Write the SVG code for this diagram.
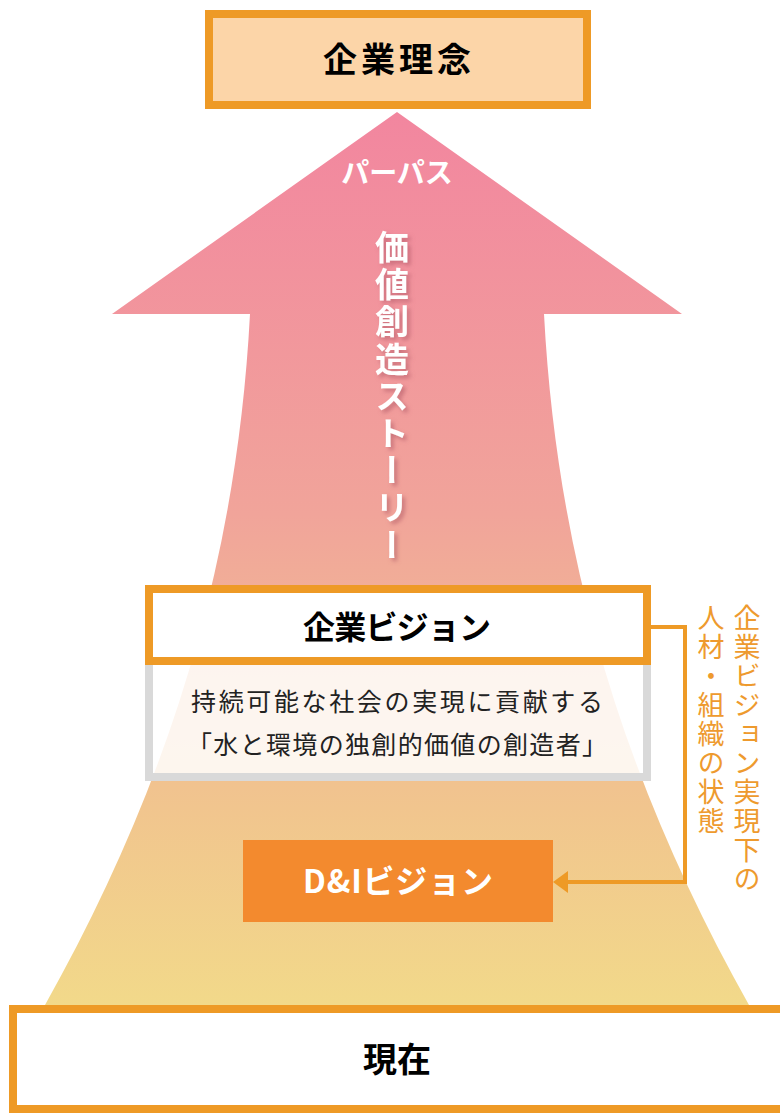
<svg xmlns="http://www.w3.org/2000/svg" width="780" height="1115" viewBox="0 0 780 1115">
<defs>
<linearGradient id="g" x1="0" y1="112" x2="0" y2="1005" gradientUnits="userSpaceOnUse">
<stop offset="0" stop-color="#F2869F"/>
<stop offset="0.45" stop-color="#F1A49A"/>
<stop offset="0.6" stop-color="#F1B595"/>
<stop offset="0.78" stop-color="#F1C58E"/>
<stop offset="1" stop-color="#F2D98A"/>
</linearGradient>
<filter id="sh" x="-50%" y="-10%" width="200%" height="120%">
<feDropShadow dx="3" dy="3" stdDeviation="2" flood-color="#A8505F" flood-opacity="0.55"/>
</filter>
<marker id="ah" markerWidth="16" markerHeight="22" refX="0" refY="11" orient="auto" markerUnits="userSpaceOnUse">
<path d="M0,0 L15,11 L0,22 Z" fill="#EE9A26"/>
</marker>
<style>
.box{stroke:#EE9A26;stroke-width:8}
.ttl{font-family:"Noto Sans CJK JP","Noto Sans",sans-serif;font-weight:700;text-anchor:middle}
.body{font-family:"Noto Sans CJK JP","Noto Sans",sans-serif;font-size:25px;fill:#222;text-anchor:middle}
.vt{font-family:"Noto Sans CJK JP",sans-serif;writing-mode:vertical-rl;fill:#EE9A2E;font-size:27px;letter-spacing:2px}
</style>
</defs>
<g id="arrow">
<path d="M397,112 L682,314 L544,314 C558,580 634,800 749,1005 L45,1005 C160,800 236,580 250,314 L112,314 Z" fill="url(#g)"/>
<text class="ttl" x="397" y="183" font-size="28" fill="#fff">パーパス</text>
<text x="392" y="230" font-family="'Noto Sans CJK JP',sans-serif" font-weight="700" font-size="34" fill="#fff" letter-spacing="3.2" style="writing-mode:vertical-rl" filter="url(#sh)">価値創造ストーリー</text>
</g>
<g id="rinen">
<rect class="box" x="209" y="14" width="378" height="91" fill="#FCD5A8"/>
<text class="ttl" x="397" y="72" font-size="34" textLength="148" fill="#000">企業理念</text>
</g>
<g id="vision">
<rect x="149" y="661" width="498" height="116" fill="#fff" fill-opacity="0.85" stroke="#D9D9D9" stroke-width="8"/>
<rect class="box" x="149" y="589" width="498" height="72" fill="#fff"/>
<text class="ttl" x="397" y="639" font-size="32" textLength="188" fill="#000">企業ビジョン</text>
<text class="body" x="397" y="711" textLength="412">持続可能な社会の実現に貢献する</text>
<text class="body" x="397" y="754" textLength="420">「水と環境の独創的価値の創造者」</text>
</g>
<g id="di">
<rect x="243" y="840" width="310" height="82" fill="#F38A2E"/>
<text class="ttl" x="398" y="893" font-size="32" textLength="190" fill="#fff">D&amp;Iビジョン</text>
</g>
<g id="genzai">
<rect class="box" x="13" y="1009" width="780" height="100" fill="#fff"/>
<text class="ttl" x="397" y="1072" font-size="34" fill="#000">現在</text>
</g>
<g id="connectors">
<path d="M651,627 H685 V882 H568" fill="none" stroke="#EE9A26" stroke-width="4" marker-end="url(#ah)"/>
</g>
<g id="label">
<text class="vt" x="747" y="604">企業ビジョン実現下の</text>
<text class="vt" x="711" y="604">人材・組織の状態</text>
</g>
</svg>
